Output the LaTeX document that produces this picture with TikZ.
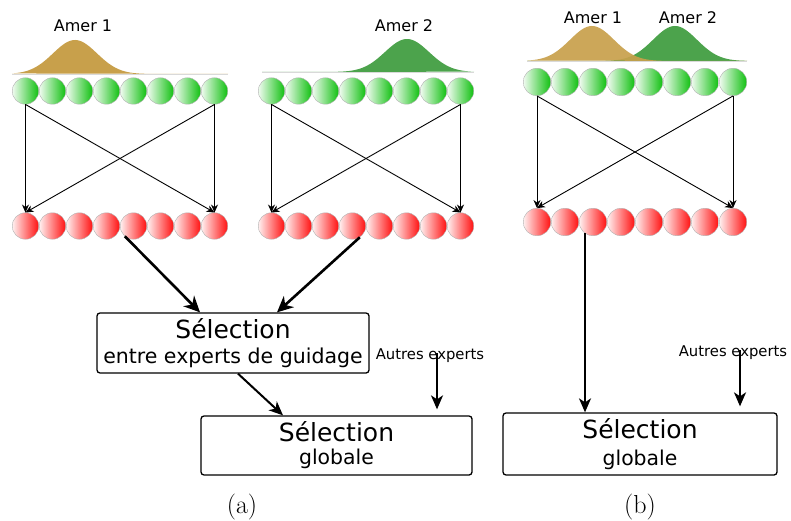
\documentclass[tikz,border=0pt]{standalone}
\usepackage{fontspec}
\newfontfamily\dvsans{DejaVu Sans}
\usetikzlibrary{arrows.meta}
\definecolor{amerone}{HTML}{C8A04B}
\definecolor{amertwo}{HTML}{4CA34C}
\definecolor{ballgreen}{HTML}{10C010}
\definecolor{ballred}{HTML}{FF1010}

\begin{document}
\begin{tikzpicture}[
  x=1pt, y=-1pt,
  font=\dvsans,
  gball/.style={circle, draw=black!30, line width=0.4pt, inner sep=0pt,
    minimum size=26.5pt, left color=ballgreen!6, right color=ballgreen},
  rball/.style={circle, draw=black!30, line width=0.4pt, inner sep=0pt,
    minimum size=26.5pt, left color=ballred!6, right color=ballred},
  gballb/.style={gball, minimum size=27.5pt},
  rballb/.style={rball, minimum size=27.5pt},
  wire/.style={-{Stealth[length=8pt, width=7pt, inset=2.5pt]}, line width=0.9pt},
  push/.style={-{Stealth[length=16pt, width=15pt, inset=5pt]}, line width=2.6pt},
  drop/.style={-{Stealth[length=14pt, width=12pt, inset=4pt]}, line width=2pt},
  selbox/.style={draw, line width=1.3pt, rounded corners=3pt, align=center, inner sep=0pt},
  amer/.style={font=\dvsans\fontsize{16}{16}\selectfont, anchor=base, inner sep=0pt},
  other/.style={font=\dvsans\fontsize{14.8}{15}\selectfont, anchor=base, inner sep=0pt},
  subcap/.style={font=\rmfamily\fontsize{26}{26}\selectfont, anchor=base, inner sep=0pt},
  baseline/.style={black!15, line width=0.6pt},
]
\useasboundingbox (0,0) rectangle (791,521);

% ================= landmark curves =================================
\fill[amerone] plot[domain=12:228, samples=120]
  (\x,{74-34*exp(-0.5*((\x-75)/22)*((\x-75)/22))}) -- cycle;
\draw[baseline] (12,74) -- (228,74);
\fill[amertwo] plot[domain=262:474, samples=120]
  (\x,{72-33*exp(-0.5*((\x-407)/22)*((\x-407)/22))}) -- cycle;
\draw[baseline] (262,72) -- (474,72);
\fill[amertwo] plot[domain=527:747, samples=120]
  (\x,{61-35*exp(-0.5*((\x-675)/22)*((\x-675)/22))}) -- cycle;
\fill[amerone, fill opacity=0.92] plot[domain=527:747, samples=120]
  (\x,{61-35*exp(-0.5*((\x-592)/22)*((\x-592)/22))}) -- cycle;
\draw[baseline] (527,61) -- (747,61);

\node[amer] (amA) at (83,32) {Amer 1};
\node[amer] (amB) at (404,32) {Amer 2};
\node[amer] (amC) at (593,24) {Amer 1};
\node[amer] (amD) at (688,24) {Amer 2};

% ================= neuron rows =====================================
\foreach \i in {1,...,8} {
  \node[gball] (ga\i) at ({25.5+27*(\i-1)},91) {};
  \node[rball] (ra\i) at ({25.5+27*(\i-1)},226) {};
  \node[gball] (gb\i) at ({271.5+27*(\i-1)},91) {};
  \node[rball] (rb\i) at ({271.5+27*(\i-1)},226) {};
  \node[gballb] (gc\i) at ({537+28*(\i-1)},82) {};
  \node[rballb] (rc\i) at ({537+28*(\i-1)},222) {};
}

% connections between the rows
\foreach \p in {a,b,c} {
  \draw[wire] (g\p1.south) -- (r\p1.north);
  \draw[wire] (g\p1.south) -- (r\p8.north);
  \draw[wire] (g\p8.south) -- (r\p1.north);
  \draw[wire] (g\p8.south) -- (r\p8.north);
}

% ================= selection boxes =================================
\node[selbox, minimum width=272pt, minimum height=60pt,
      font=\dvsans\fontsize{20.5}{25}\selectfont] (selA) at (233,343)
  {{\fontsize{25}{25}\selectfont Sélection}\\ entre experts de guidage};
\node[selbox, minimum width=271pt, minimum height=59pt,
      font=\dvsans\fontsize{20.4}{23}\selectfont] (glA) at (336.5,445.5)
  {{\fontsize{25}{25}\selectfont Sélection}\\ globale};
\node[selbox, minimum width=274pt, minimum height=62pt,
      font=\dvsans\fontsize{20.4}{27}\selectfont] (glB) at (640,444)
  {{\fontsize{25}{25}\selectfont Sélection}\\ globale};

\node[other] (othA) at (430,359) {Autres experts};
\node[other] (othB) at (733,356) {Autres experts};

% ================= relations =======================================
\draw[push] (ra5.230) -- ([xshift=-33pt]selA.north);
\draw[push] (rb4.303) -- ([xshift=44pt]selA.north);
\draw[drop] ([xshift=5pt]selA.south) -- ([xshift=-53.5pt]glA.north);
\draw[drop] ([xshift=7pt, yshift=6pt]othA.base) -- ([xshift=7pt, yshift=6pt]othA.base |- glA.north);
\draw[drop] (rc3.235) -- (rc3.235 |- glB.north);
\draw[drop] ([xshift=7pt, yshift=6pt]othB.base) -- ([xshift=7pt, yshift=6pt]othB.base |- glB.north);

\node[subcap] (capA) at (242,513) {(a)};
\node[subcap] (capB) at (640,513) {(b)};

\end{tikzpicture}
\end{document}
